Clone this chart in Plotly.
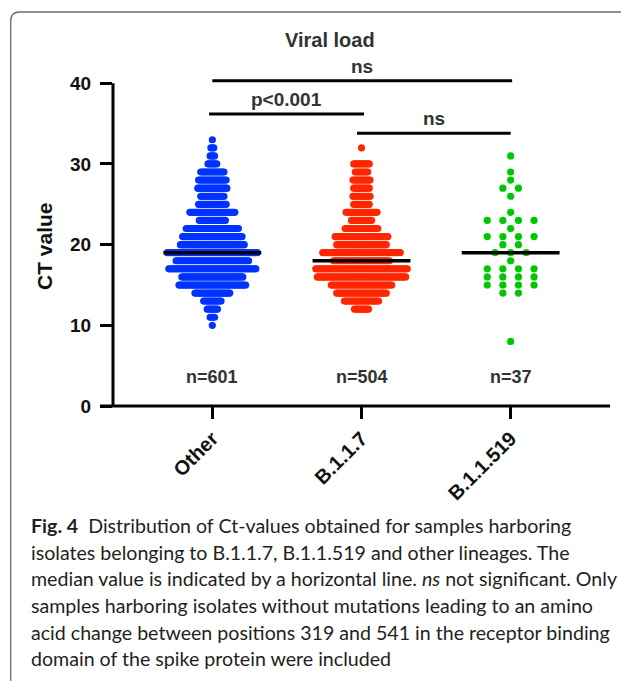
import numpy as np
import plotly.graph_objects as go

# ---------------- data ----------------
categories = ["Other", "B.1.1.7", "B.1.1.519"]

ct_other = list(range(10, 34))
n_other = [1, 4, 8, 13, 25, 47, 43, 61, 51, 63, 45, 42, 37, 19, 32, 20, 17, 21, 20, 17, 7, 4, 3, 1]

ct_b117 = list(range(12, 33))
n_b117 = [10, 23, 33, 40, 58, 60, 37, 51, 33, 35, 22, 14, 21, 11, 12, 11, 12, 9, 11, 0, 1]

ct_b11519 = [8, 14, 15, 16, 17, 18, 19, 20, 21, 22, 23, 24, 26, 27, 28, 29, 31]
n_b11519 = [1, 2, 4, 4, 4, 1, 3, 2, 4, 1, 4, 1, 1, 2, 1, 1, 1]

y_ticks = [0, 10, 20, 30, 40]
comparisons = [  # (label, group a, group b)
    ("ns", 0, 2),
    ("p<0.001", 0, 1),
    ("ns", 1, 2),
]
colors = ["#0033FF", "#FF2600", "#00C800"]
dot_spacing_px = [1.45, 1.55, 15.6]

caption_lines = [
    "<b>Fig. 4</b>  Distribution of Ct-values obtained for samples harboring",
    "isolates belonging to B.1.1.7, B.1.1.519 and other lineages. The",
    "median value is indicated by a horizontal line. <i>ns</i> not significant. Only",
    "samples harboring isolates without mutations leading to an amino",
    "acid change between positions 319 and 541 in the receptor binding",
    "domain of the spike protein were included",
]

# ---------------- geometry (reference pixel frame) ----------------
W, H = 629, 681
OFF = 8  # page body margin
L, R, T, B = 113, 610, 51, 406
XR = [-0.666, 2.666]
YR = [0, 44]
px_per_x = (R - L) / (XR[1] - XR[0])


def xp(px):
    return (px - L) / (R - L)


def yp(py):
    return (B - py) / (B - T)


groups = [(ct_other, n_other), (ct_b117, n_b117), (ct_b11519, n_b11519)]

fig = go.Figure()
medians = []
for gi, (cts, ns) in enumerate(groups):
    xs, ys = [], []
    vals = []
    step = dot_spacing_px[gi] / px_per_x
    for ct, n in zip(cts, ns):
        for i in range(n):
            xs.append(gi + (i - (n - 1) / 2) * step)
            ys.append(ct)
            vals.append(ct)
    medians.append(float(np.median(vals)))
    fig.add_trace(go.Scatter(
        x=xs, y=ys, mode="markers",
        marker=dict(size=7.2, color=colors[gi], line=dict(width=0)),
        showlegend=False, hoverinfo="skip",
    ))

shapes = []
annotations = []

# median lines
for gi, m in enumerate(medians):
    shapes.append(dict(type="line", xref="x", yref="y", x0=gi - 0.328, x1=gi + 0.328,
                       y0=m, y1=m, line=dict(color="black", width=3.5)))

# n labels
for gi, (cts, ns) in enumerate(groups):
    annotations.append(dict(x=gi, y=3.63, xref="x", yref="y", text=f"<b>n={sum(ns)}</b>",
                            showarrow=False, font=dict(family="Liberation Sans", size=18, color="#333333"),
                            xanchor="center", yanchor="middle"))

# significance bars
bar_y = [40.3, 36.2, 33.8]
bar_ext = [(0.0, 0.01), (-0.022, 0.017), (-0.03, 0.0)]
for (lab, a, b), by, (ea, eb) in zip(comparisons, bar_y, bar_ext):
    shapes.append(dict(type="line", xref="x", yref="y", x0=a + ea, x1=b + eb, y0=by, y1=by,
                       line=dict(color="black", width=3)))
    annotations.append(dict(x=(a + ea + b + eb) / 2, y=by + 1.8, xref="x", yref="y", text=f"<b>{lab}</b>",
                            showarrow=False, font=dict(family="Liberation Sans", size=19, color="#333333"),
                            xanchor="center", yanchor="middle"))

# axes lines
shapes.append(dict(type="line", xref="paper", yref="paper", x0=0, x1=0, y0=0, y1=40 / YR[1],
                   line=dict(color="black", width=3)))
shapes.append(dict(type="line", xref="paper", yref="paper", x0=xp(100), x1=1, y0=0, y1=0,
                   line=dict(color="black", width=3)))

# frame
fx0, fy0, rr = xp(10.7), yp(12), 9
path = (f"M {fx0},{yp(H + 5)} L {fx0},{yp(12 + rr)} Q {fx0},{fy0} {xp(10.7 + rr)},{fy0} "
        f"L {xp(W + 5)},{fy0}")
shapes.append(dict(type="path", xref="paper", yref="paper", path=path,
                   line=dict(color="#6b6b6b", width=1.3)))

# title & y title
annotations.append(dict(x=xp(330), y=yp(40), xref="paper", yref="paper", text="<b>Viral load</b>",
                        showarrow=False, font=dict(family="Liberation Sans", size=20, color="#333333"),
                        xanchor="center", yanchor="middle"))
annotations.append(dict(x=xp(45), y=yp(246), xref="paper", yref="paper", text="<b>CT value</b>",
                        showarrow=False, textangle=-90,
                        font=dict(family="Liberation Sans", size=21, color="#111111"),
                        xanchor="center", yanchor="middle"))

# caption
cap_y = [525, 552, 578, 605, 632, 658]
for txt, cy in zip(caption_lines, cap_y):
    annotations.append(dict(x=xp(29), y=yp(cy), xref="paper", yref="paper", text=txt,
                            showarrow=False, font=dict(family="Lato", size=19.6, color="#231F20"),
                            xanchor="left", yanchor="middle"))

fig.update_layout(
    width=W - OFF, height=H - OFF,
    margin=dict(l=L - OFF, r=W - R, t=T - OFF, b=H - B, pad=0),
    paper_bgcolor="white", plot_bgcolor="white",
    shapes=shapes, annotations=annotations,
    xaxis=dict(range=XR, tickvals=[0, 1, 2], ticktext=[f"<b>{c}</b>" for c in categories],
               tickangle=-45, ticks="outside", ticklen=12, tickwidth=3, tickcolor="black",
               showline=False, showgrid=False, zeroline=False,
               tickfont=dict(family="Liberation Sans", size=20, color="#111111")),
    yaxis=dict(range=YR, tickvals=y_ticks, ticktext=[f"<b>{v}</b>" for v in y_ticks],
               ticks="outside", ticklen=12, tickwidth=3, tickcolor="black", ticklabelstandoff=5,
               showline=False, showgrid=False, zeroline=False,
               tickfont=dict(family="Liberation Sans", size=19, color="#111111")),
)

fig.write_html("out.html")
